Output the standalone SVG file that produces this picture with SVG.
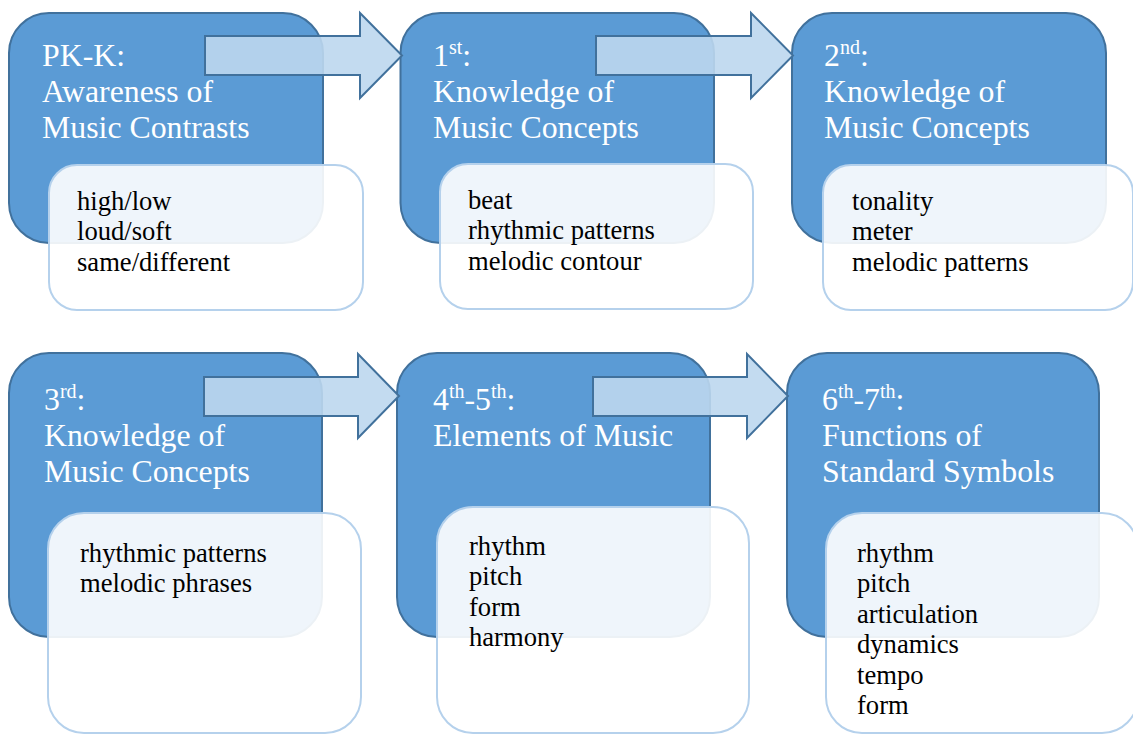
<svg xmlns="http://www.w3.org/2000/svg" width="1133" height="734" viewBox="0 0 1133 734">
<style>
.blue{fill:#5B9BD5;stroke:#41719C;stroke-width:2}
.light{fill:#FFFFFF;fill-opacity:0.9;stroke:#B5D1EC;stroke-width:2}
.arrow{fill:#BDD7EE;fill-opacity:0.9;stroke:#41719C;stroke-width:2;stroke-linejoin:miter}
text{font-family:'Liberation Serif','Times New Roman',serif}
.title{font-size:31.8px;fill:#FFFFFF}
.body{font-size:26.6px;fill:#000000}
.sup{font-size:20px}
</style>
<rect width="1133" height="734" fill="#FFFFFF"/>
<g id="node-pkk">
<rect class="blue" x="9" y="13" width="314" height="230" rx="40"/>
<rect class="light" x="49" y="165" width="314" height="145" rx="28"/>
<text class="title" x="42" y="66">PK-K:</text>
<text class="title" x="42" y="102">Awareness of</text>
<text class="title" x="42" y="138">Music Contrasts</text>
<text class="body" x="77" y="209.5">high/low</text>
<text class="body" x="77" y="240">loud/soft</text>
<text class="body" x="77" y="270.5">same/different</text>
</g>
<g id="node-1st">
<rect class="blue" x="400.5" y="13" width="313.5" height="230" rx="40"/>
<rect class="light" x="440" y="164" width="313" height="145" rx="28"/>
<text class="title" x="433" y="66">1<tspan class="sup" dy="-12">st</tspan><tspan dy="12">:</tspan></text>
<text class="title" x="433" y="102">Knowledge of</text>
<text class="title" x="433" y="138">Music Concepts</text>
<text class="body" x="468" y="208.5">beat</text>
<text class="body" x="468" y="239">rhythmic patterns</text>
<text class="body" x="468" y="269.5">melodic contour</text>
</g>
<g id="node-2nd">
<rect class="blue" x="792" y="13" width="314" height="230" rx="40"/>
<rect class="light" x="823" y="165" width="310" height="145" rx="28"/>
<text class="title" x="824" y="66">2<tspan class="sup" dy="-12">nd</tspan><tspan dy="12">:</tspan></text>
<text class="title" x="824" y="102">Knowledge of</text>
<text class="title" x="824" y="138">Music Concepts</text>
<text class="body" x="852" y="209.5">tonality</text>
<text class="body" x="852" y="240">meter</text>
<text class="body" x="852" y="270.5">melodic patterns</text>
</g>
<g id="node-3rd">
<rect class="blue" x="9" y="353" width="313" height="284" rx="40"/>
<rect class="light" x="48" y="513" width="313" height="220" rx="36"/>
<text class="title" x="44" y="410">3<tspan class="sup" dy="-12">rd</tspan><tspan dy="12">:</tspan></text>
<text class="title" x="44" y="446">Knowledge of</text>
<text class="title" x="44" y="482">Music Concepts</text>
<text class="body" x="80" y="561.5">rhythmic patterns</text>
<text class="body" x="80" y="592">melodic phrases</text>
</g>
<g id="node-4th5th">
<rect class="blue" x="397" y="353" width="313" height="284" rx="40"/>
<rect class="light" x="437" y="507" width="312" height="226" rx="36"/>
<text class="title" x="433" y="410">4<tspan class="sup" dy="-12">th</tspan><tspan dy="12">-5</tspan><tspan class="sup" dy="-12">th</tspan><tspan dy="12">:</tspan></text>
<text class="title" x="433" y="446">Elements of Music</text>
<text class="body" x="469" y="554.5">rhythm</text>
<text class="body" x="469" y="585">pitch</text>
<text class="body" x="469" y="615.5">form</text>
<text class="body" x="469" y="646">harmony</text>
</g>
<g id="node-6th7th">
<rect class="blue" x="787" y="353" width="312" height="284" rx="40"/>
<rect class="light" x="826" y="513" width="312" height="220" rx="36"/>
<text class="title" x="822" y="410">6<tspan class="sup" dy="-12">th</tspan><tspan dy="12">-7</tspan><tspan class="sup" dy="-12">th</tspan><tspan dy="12">:</tspan></text>
<text class="title" x="822" y="446">Functions of</text>
<text class="title" x="822" y="482">Standard Symbols</text>
<text class="body" x="857" y="561.5">rhythm</text>
<text class="body" x="857" y="592">pitch</text>
<text class="body" x="857" y="622.5">articulation</text>
<text class="body" x="857" y="653">dynamics</text>
<text class="body" x="857" y="683.5">tempo</text>
<text class="body" x="857" y="714">form</text>
</g>
<g id="connectors">
<path class="arrow" d="M205,36 H360 V13 L402,55.5 L360,98 V75 H205 Z"/>
<path class="arrow" d="M596,36 H751 V13 L793,55.5 L751,98 V75 H596 Z"/>
<path class="arrow" d="M204,377 H358 V354 L399,396 L358,438 V416 H204 Z"/>
<path class="arrow" d="M593,377 H747 V354 L788,396 L747,438 V416 H593 Z"/>
</g>
</svg>
